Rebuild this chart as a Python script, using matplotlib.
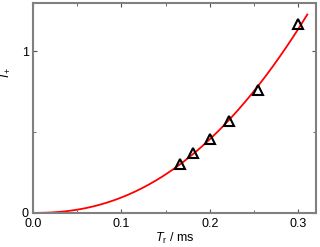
import numpy as np
import matplotlib.pyplot as plt
from matplotlib.ticker import MultipleLocator

plt.rcParams['font.family'] = ['Liberation Sans', 'DejaVu Sans']
plt.rcParams['mathtext.fontset'] = 'custom'
plt.rcParams['mathtext.rm'] = 'Liberation Sans'
plt.rcParams['mathtext.it'] = 'Liberation Sans:italic'

# measured points
t_r = [0.166, 0.181, 0.200, 0.222, 0.254, 0.300]
i_plus = [0.30, 0.37, 0.46, 0.57, 0.76, 1.17]

# power-law fit I = a * T^n
n, log_a = np.polyfit(np.log(t_r), np.log(i_plus), 1)
t_fit = np.linspace(0.0, 0.31, 200)
i_fit = np.exp(log_a) * t_fit ** n

fig = plt.figure(figsize=(3.2, 2.47), dpi=100)
ax = fig.add_axes([0.103, 0.138, 0.885, 0.850])

ax.plot(t_fit, i_fit, color='red', lw=1.3, zorder=2)
ax.plot(t_r, i_plus, linestyle='none', marker='^', ms=7, mfc='none',
        mec='black', mew=1.5, zorder=3)

ax.set_xlim(0, 0.32)
ax.set_ylim(0, 1.3)
ax.xaxis.set_major_locator(MultipleLocator(0.1))
ax.xaxis.set_minor_locator(MultipleLocator(0.05))
ax.yaxis.set_major_locator(MultipleLocator(1))
ax.yaxis.set_minor_locator(MultipleLocator(0.5))
ax.xaxis.set_major_formatter(plt.FuncFormatter(lambda v, p: f'{v:.1f}'))
ax.yaxis.set_major_formatter(plt.FuncFormatter(lambda v, p: f'{v:.0f}'))

for s in ax.spines.values():
    s.set_color('#808080')
    s.set_linewidth(1.5)
ax.tick_params(which='both', direction='in', top=True, right=True,
               color='#505050', labelsize=9)
ax.tick_params(axis='x', pad=4)
ax.tick_params(axis='y', pad=3)
ax.tick_params(which='major', length=3)
ax.tick_params(which='minor', length=2)

ax.set_xlabel(r'$T_\mathrm{r}$ / ms', fontsize=9, labelpad=0)
ax.set_ylabel(r'$I_+$', fontsize=9)
ax.yaxis.set_label_coords(-0.075, 0.67)

fig.savefig('out.png', dpi=100)
